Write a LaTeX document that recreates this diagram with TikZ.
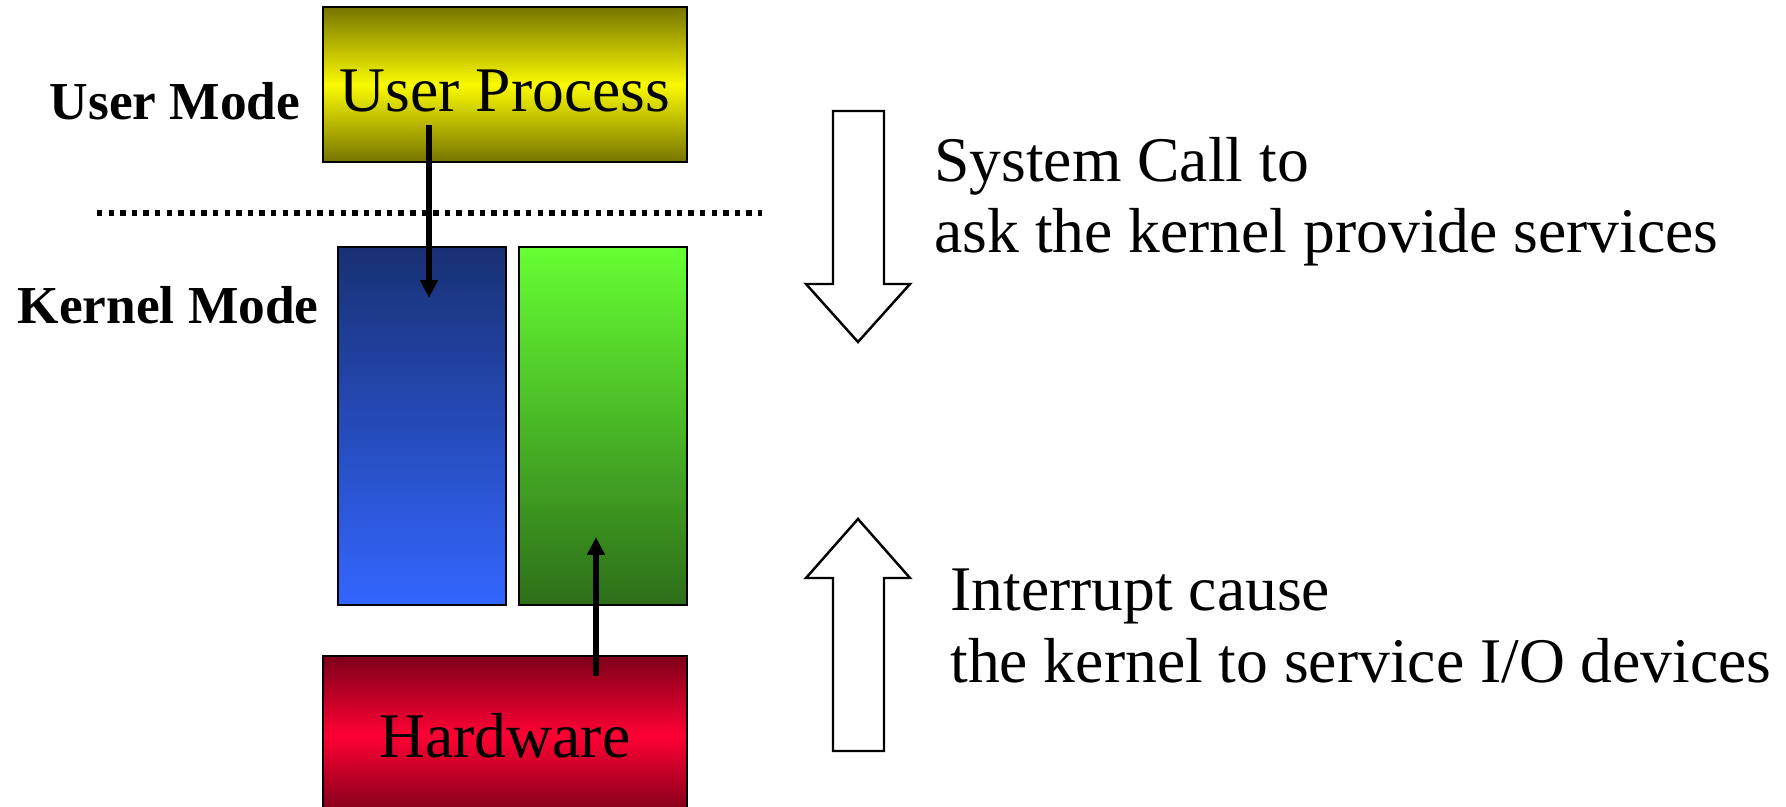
\documentclass[tikz,border=0pt]{standalone}
\usepackage{fontspec}
\setmainfont{Liberation Serif}
\usetikzlibrary{arrows.meta}

\definecolor{olivedark}{RGB}{118,116,0}
\definecolor{yellowbright}{RGB}{250,250,0}
\definecolor{bluetop}{RGB}{24,48,115}
\definecolor{bluebot}{RGB}{51,102,255}
\definecolor{greentop}{RGB}{102,255,51}
\definecolor{greenbot}{RGB}{45,110,25}
\definecolor{reddark}{RGB}{125,0,25}
\definecolor{redmid}{RGB}{255,0,51}

\tikzset{
  box/.style={draw=black, line width=1.1pt, inner sep=0pt, rectangle},
  bigtext/.style={font=\fontsize{36.2}{40}\selectfont, inner sep=0pt},
  modetext/.style={font=\bfseries\fontsize{30.4}{34}\selectfont, inner sep=0pt},
  callarrow/.style={line width=3pt, -{Triangle[length=0.36cm,width=0.34cm]}},
  hollowarrow/.style={draw=black, line width=1.4pt, fill=white, line join=miter},
  modeline/.style={line width=3pt, dash pattern=on 3.1pt off 3.5pt}
}

\begin{document}
\begin{tikzpicture}[x=0.02cm,y=-0.02cm]
  \clip (0,0) rectangle (1786,807);
  \fill[white] (0,0) rectangle (1786,807);

  % mode labels and separator
  \node[modetext, anchor=base] (umode) at (175,120) {User Mode};
  \node[modetext, anchor=base] (kmode) at (168,324) {Kernel Mode};
  \coordinate (sepL) at (97,213);
  \coordinate (sepR) at (762,213);
  \draw[modeline] (sepL) -- (sepR);

  % blocks
  \node[box, minimum width=7.28cm, minimum height=3.10cm,
        top color=olivedark, bottom color=olivedark, middle color=yellowbright,
        bigtext, text height=31pt, text depth=0pt] (user) at (505,84.5) {User Process};
  \node[box, minimum width=3.36cm, minimum height=7.16cm,
        top color=bluetop, bottom color=bluebot] (kblue) at (422,426) {};
  \node[box, minimum width=3.36cm, minimum height=7.16cm,
        top color=greentop, bottom color=greenbot] (kgreen) at (603,426) {};
  \node[box, minimum width=7.28cm, minimum height=3.18cm,
        top color=reddark, bottom color=reddark, middle color=redmid,
        bigtext] (hw) at (505,735.5) {Hardware};

  % system call and interrupt paths
  \coordinate (callS) at (429,125);
  \coordinate (callE) at (429,298);
  \draw[callarrow] (callS) -- (callE);
  \coordinate (irqS) at (596,676);
  \coordinate (irqE) at (596,537);
  \draw[callarrow] (irqS) -- (irqE);

  % large hollow arrows
  \draw[hollowarrow] (833,111) -- (884,111) -- (884,284) -- (910,284)
        -- (858,342) -- (806,284) -- (833,284) -- cycle;
  \draw[hollowarrow] (833,751) -- (884,751) -- (884,578) -- (910,578)
        -- (858,519) -- (806,578) -- (833,578) -- cycle;

  % explanations
  \node[bigtext, anchor=base west] (sc1) at (934,182) {System Call to};
  \node[bigtext, anchor=base west] (sc2) at (934,253) {ask the kernel provide services};
  \node[bigtext, anchor=base west] (ir1) at (950,610) {Interrupt cause};
  \node[bigtext, anchor=base west] (ir2) at (950,682) {the kernel to service I/O devices};
\end{tikzpicture}
\end{document}
